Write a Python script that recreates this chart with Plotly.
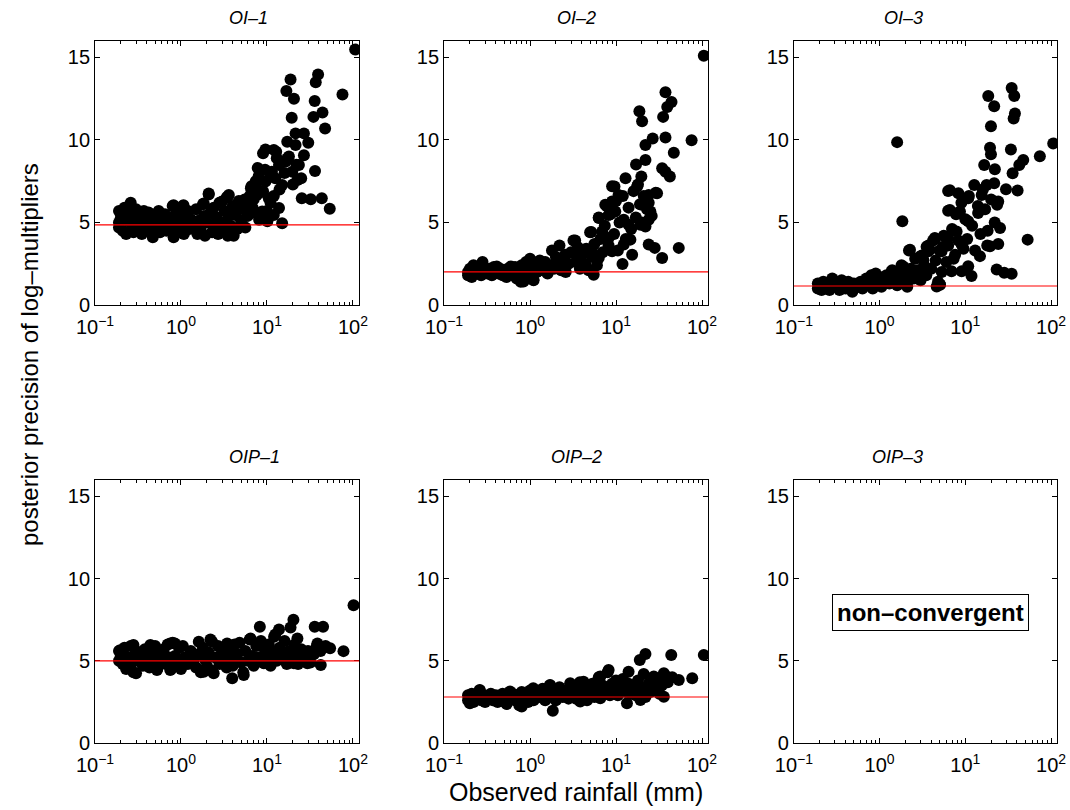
import math
import plotly.graph_objects as go

# ---------------- data ----------------
panel_titles = ["OI–1", "OI–2", "OI–3", "OIP–1", "OIP–2", "OIP–3"]
ref_levels = [4.85, 2.0, 1.15, 5.0, 2.8]
x_tick_vals = [0.1, 1, 10, 100]
x_tick_text = ["10<sup>−1</sup>", "10<sup>0</sup>", "10<sup>1</sup>", "10<sup>2</sup>"]
y_tick_vals = [0, 5, 10, 15]
x_minor_vals = [0.2, 0.3, 0.4, 0.5, 0.6, 0.7, 0.8, 0.9, 2, 3, 4, 5, 6, 7, 8, 9,
                20, 30, 40, 50, 60, 70, 80, 90]

# OI-1
oi1_x = [0.19, 0.19, 0.19, 0.2, 0.21, 0.22, 0.23, 0.24, 0.25, 0.26, 0.27, 0.28, 0.29, 0.3, 0.31,
         0.32, 0.34, 0.35, 0.37, 0.38, 0.4, 0.42, 0.43, 0.45, 0.47, 0.5, 0.52, 0.55, 0.57, 0.6,
         0.62, 0.65, 0.68, 0.7, 0.73, 0.77, 0.8, 0.82, 0.85, 0.88, 0.9, 0.95, 1.0, 1.05, 1.08,
         1.1, 1.2, 1.25, 1.3, 1.4, 1.5, 1.55, 1.6, 1.7, 1.8, 1.85, 1.9, 2.0, 2.1, 2.2,
         2.3, 2.4, 2.5, 2.6, 2.7, 2.8, 3.0, 3.1, 3.2, 3.4, 3.5, 3.6, 3.8, 4.0, 4.1,
         4.3, 4.5, 4.7, 5.0, 5.3, 5.6, 5.9, 6.0, 6.3, 6.6, 7.0, 7.4, 7.8, 8.2, 8.5,
         9.0, 9.5, 10, 11, 12, 13, 14, 16, 18, 20, 22,
         106, 18.8, 39.3, 36.9, 16.8, 20.6, 75.5, 35.9, 19.4, 34.7, 44.2, 47.4, 21.5, 26.9, 30.2,
         9.6, 12.8, 36.2, 25.4, 32.3, 43.4, 53.7, 15.0, 21.5, 26.9, 23.5, 22.6, 17.2, 13.8, 11.4,
         9.6, 7.4, 6.5, 7.6, 10.5, 13.8, 12.0, 8.8, 8.1, 10.1, 3.6, 3.0, 5.1, 4.3, 6.2,
         3.3, 4.7, 17.2, 19.7, 25.0, 12.5, 15.0, 16.5, 3.44, 4.1, 5.9, 2.1, 1.84, 0.82, 1.07,
         7.0, 8.0, 9.0, 11.0, 12.0, 6.8, 5.5]
oi1_y = [5.7, 5.0, 4.7, 5.3, 4.5, 5.9, 4.3, 5.1, 5.6, 6.2, 4.8, 4.4, 5.3, 5.8, 4.6,
         5.0, 5.5, 4.3, 5.7, 4.9, 5.2, 5.6, 4.5, 5.0, 4.1, 5.4, 4.7, 5.7, 4.4, 5.1,
         4.9, 5.5, 4.5, 5.2, 4.8, 5.3, 6.0, 4.1, 4.7, 5.6, 5.0, 4.4, 5.4, 6.0, 4.3,
         4.9, 5.7, 4.6, 5.2, 4.8, 5.8, 4.3, 5.1, 4.5, 6.1, 5.4, 4.2, 5.0, 6.7, 5.6,
         4.4, 5.9, 4.8, 5.3, 4.3, 6.2, 5.0, 4.5, 5.7, 6.5, 4.2, 5.4, 4.8, 6.0, 4.2,
         5.5, 4.6, 6.3, 5.1, 5.8, 4.7, 6.0, 5.4, 6.6, 7.2, 5.6, 7.5, 8.3, 6.8, 5.3,
         9.2, 8.2, 5.7, 6.2, 9.4, 8.9, 7.0, 8.0, 9.0, 7.3, 8.5,
         15.48, 13.67, 13.97, 13.5, 12.97, 12.5, 12.76, 12.36, 11.34, 11.4, 11.66, 10.69, 10.4, 10.4, 9.83,
         9.43, 9.29, 8.12, 6.47, 6.41, 6.47, 5.83, 4.96, 9.69, 9.08, 8.48, 7.58, 8.88, 8.48, 8.08,
         7.48, 7.27, 7.07, 6.67, 6.47, 5.87, 5.46, 5.67, 5.16, 5.07, 6.67, 6.27, 6.07, 5.46, 5.67,
         4.9, 4.7, 9.89, 8.08, 7.68, 7.68, 7.27, 8.69, 6.55, 5.95, 5.95, 6.75, 6.15, 6.05, 6.05,
         6.4, 7.8, 6.9, 7.9, 6.6, 5.9, 6.4]

# OI-2
oi2_x = [0.19, 0.19, 0.2, 0.21, 0.22, 0.23, 0.25, 0.27, 0.28, 0.3, 0.32, 0.34, 0.36, 0.38, 0.4,
         0.43, 0.45, 0.48, 0.5, 0.53, 0.55, 0.6, 0.63, 0.67, 0.7, 0.75, 0.78, 0.8, 0.85, 0.9,
         0.95, 1.0, 1.05, 1.1, 1.15, 1.2, 1.3, 1.4, 1.5, 1.6, 1.7, 1.8, 1.9, 2.0, 2.1,
         2.2, 2.3, 2.5, 2.6, 2.8, 3.0, 3.2, 3.4, 3.6, 3.8, 4.0, 4.2, 4.5, 4.8, 5.0,
         5.3, 5.6, 6.0, 6.3, 6.6, 7.0, 7.4, 7.8, 8.2, 8.6, 9.0, 9.5, 10, 10.5, 11,
         12, 13, 14, 15, 16, 17, 18, 19, 20, 21, 23, 24, 26, 29,
         105, 37.6, 44.2, 39.4, 18.7, 20.1, 35.3, 26.7, 37.6, 75.7, 22.0, 47.0, 22.0, 17.1, 34.4,
         42.3, 37.6, 12.9, 19.7, 9.6, 17.6, 30.0, 24.0, 10.7, 9.0, 25.1, 20.1, 24.0, 19.2, 22.0,
         6.3, 8.2, 12.3, 14.7, 12.3, 15.4, 24.0, 28.2, 34.4, 53.7, 11.9, 5.15, 3.35, 8.2, 9.0,
         6.9, 9.8, 7.5, 14.0, 5.25, 6.3, 4.4, 3.7, 2.56, 0.84, 1.09, 0.41, 0.6, 1.2, 5.5]
oi2_y = [2.0, 1.8, 2.2, 1.7, 2.4, 1.9, 2.1, 1.8, 2.6, 2.0, 1.9, 2.2, 1.8, 2.3, 2.0,
         1.9, 2.2, 1.8, 2.1, 1.7, 2.2, 2.0, 1.8, 2.3, 1.6, 2.1, 1.4, 2.4, 1.9, 2.6,
         1.7, 2.8, 2.2, 1.5, 2.5, 2.0, 2.7, 2.1, 2.6, 1.9, 2.4, 3.3, 2.2, 2.9, 2.4,
         3.6, 2.1, 2.8, 2.0, 2.5, 3.2, 3.9, 2.6, 3.5, 2.2, 3.0, 2.5, 3.4, 2.1, 4.4,
         2.9, 3.7, 2.4, 5.3, 4.0, 3.2, 4.8, 6.0, 3.6, 5.5, 7.2, 4.3, 6.3, 3.3, 5.0,
         6.6, 4.0, 5.9, 4.6, 6.9, 5.3, 7.3, 6.1, 5.0, 6.6, 5.8, 6.2, 5.4, 6.8,
         15.11, 12.9, 12.3, 12.0, 11.74, 11.13, 11.4, 10.09, 10.15, 9.99, 9.69, 9.23, 8.78, 8.52, 8.28,
         7.78, 8.08, 7.68, 7.78, 7.18, 7.18, 6.77, 6.67, 6.67, 6.27, 5.67, 6.07, 5.16, 4.86, 4.76,
         5.27, 5.46, 5.16, 3.96, 3.66, 3.05, 3.66, 3.46, 2.85, 3.46, 2.49, 4.42, 3.9, 4.06, 3.26,
         4.46, 5.67, 6.07, 4.86, 3.26, 2.85, 2.45, 2.85, 3.05, 1.42, 1.53, 2.33, 2.33, 2.53, 1.83]

# OI-3
oi3_x = [0.19, 0.19, 0.2, 0.21, 0.22, 0.23, 0.25, 0.26, 0.28, 0.3, 0.32, 0.34, 0.36, 0.38, 0.4,
         0.43, 0.45, 0.48, 0.5, 0.55, 0.6, 0.63, 0.67, 0.7, 0.75, 0.8, 0.83, 0.88, 0.9, 0.95,
         1.0, 1.05, 1.1, 1.2, 1.3, 1.4, 1.5, 1.6, 1.7, 1.8, 1.9, 2.0, 2.1, 2.2, 2.3,
         2.5, 2.6, 2.8, 3.0, 3.1, 3.3, 3.5, 3.7, 4.0, 4.2, 4.5, 4.8, 5.0, 5.3, 5.6,
         6.0, 6.3, 7.0, 7.3, 7.8, 8.3, 9.0, 9.5, 10, 10.5, 11, 12, 13, 14, 15,
         16, 17, 18, 20, 22,
         34.7, 37.2, 18.5, 21.7, 37.9, 36.6, 19.9, 106, 19.4, 19.9, 34.0, 74.0, 47.4, 42.6, 16.6,
         22.1, 35.6, 12.7, 17.7, 21.7, 29.8, 40.7, 6.3, 8.3, 10.8, 15.5, 24.2, 23.5, 6.3, 8.65,
         14.1, 10.8, 18.2, 25.4, 24.2, 19.4, 53.3, 14.8, 10.8, 11.8, 23.2, 28.4, 34.7, 7.9, 4.4,
         6.3, 9.06, 5.06, 7.6, 5.28, 3.7, 6.9, 9.06, 1.6, 1.84, 2.26, 4.42, 1.88, 1.38, 0.88,
         3.53, 2.95, 5.06, 2.07, 6.6, 6.6, 4.63, 3.24, 3.83, 5.5]
oi3_y = [1.3, 1.0, 1.2, 0.9, 1.4, 1.1, 1.3, 0.9, 1.6, 1.1, 1.4, 0.9, 1.5, 1.2, 1.0,
         1.4, 1.2, 0.8, 1.3, 1.1, 1.4, 1.0, 1.3, 1.6, 1.2, 1.8, 1.0, 1.5, 1.9, 1.3,
         1.7, 1.1, 1.5, 1.8, 1.3, 2.1, 1.5, 1.2, 1.9, 2.4, 1.4, 1.8, 1.1, 3.3, 2.2,
         1.6, 2.8, 2.1, 1.5, 3.0, 2.4, 1.8, 3.6, 2.2, 3.9, 2.7, 1.4, 3.3, 2.0, 4.2,
         2.6, 3.6, 4.6, 2.8, 5.5, 3.9, 6.2, 3.4, 5.2, 4.0, 6.6, 4.8, 3.3, 6.0, 4.3,
         7.0, 5.8, 3.6, 6.4, 5.0,
         13.15, 12.67, 12.67, 12.04, 11.6, 11.3, 10.83, 9.79, 9.53, 9.13, 9.43, 9.02, 8.78, 8.48, 8.48,
         8.22, 7.98, 7.27, 7.27, 7.37, 7.01, 6.94, 6.91, 6.77, 6.47, 6.67, 6.27, 6.07, 5.71, 5.67,
         5.57, 5.07, 4.5, 4.66, 3.7, 3.56, 3.96, 2.96, 2.35, 1.75, 2.15, 1.95, 1.89, 4.46, 4.06,
         4.06, 3.66, 1.24, 3.05, 3.26, 3.26, 2.05, 2.05, 9.87, 5.08, 3.34, 3.98, 2.33, 2.03, 1.83,
         3.53, 2.93, 1.22, 1.22, 6.95, 5.75, 1.12, 2.73, 3.34, 3.53]

# OIP-1
oip1_x = [0.19, 0.19, 0.2, 0.21, 0.22, 0.23, 0.25, 0.26, 0.27, 0.28, 0.3, 0.32, 0.34, 0.36, 0.38,
          0.4, 0.43, 0.45, 0.48, 0.5, 0.53, 0.56, 0.6, 0.63, 0.67, 0.7, 0.73, 0.77, 0.8, 0.85,
          0.9, 0.95, 1.0, 1.05, 1.1, 1.2, 1.3, 1.4, 1.5, 1.6, 1.7, 1.8, 1.9, 2.0, 2.1,
          2.2, 2.3, 2.5, 2.7, 2.8, 3.0, 3.2, 3.4, 3.6, 3.8, 4.0, 4.2, 4.5, 4.8, 5.0,
          5.3, 5.6, 6.0, 6.3, 6.7, 7.0, 7.5, 8.0, 8.5, 9.0, 9.5, 10, 10.5, 11, 12,
          12.5, 13, 14, 15, 16, 17, 18, 19, 21, 22, 23, 25, 27, 30, 32,
          35, 38, 42, 48,
          101.6, 8.26, 20.3, 18.8, 13.8, 35.9, 44.9, 77.6, 54.2, 42.2, 3.94, 2.3, 1.61, 5.37, 0.3,
          0.196, 0.196, 0.525, 0.75, 1.84, 2.4, 9.2, 20.6, 29.5, 6.44, 12.1, 22.6, 38.6, 0.75, 0.85,
          0.44, 0.28, 3.44]
oip1_y = [5.6, 5.0, 5.3, 4.8, 5.8, 4.5, 5.2, 5.9, 4.9, 4.3, 5.6, 5.0, 5.4, 4.7, 5.7,
          5.1, 4.6, 5.5, 5.0, 5.9, 4.5, 5.3, 5.0, 5.7, 4.8, 6.0, 5.2, 4.5, 6.1, 5.3,
          4.9, 5.8, 4.5, 5.9, 5.2, 4.8, 5.6, 5.0, 4.6, 5.4, 4.3, 5.8, 5.1, 4.7, 5.5,
          6.3, 4.4, 5.2, 5.9, 4.8, 5.6, 5.0, 4.6, 5.7, 5.2, 4.7, 6.0, 5.4, 6.1, 4.9,
          4.3, 5.6, 5.0, 6.3, 5.3, 4.7, 5.9, 5.2, 6.2, 4.9, 5.6, 5.1, 6.0, 4.7, 5.5,
          6.6, 5.0, 5.8, 5.3, 6.2, 4.8, 5.6, 5.1, 6.0, 5.4, 4.8, 5.7, 5.2, 5.6, 4.9,
          5.4, 5.9, 5.6, 5.9,
          8.38, 7.07, 7.5, 7.03, 6.91, 7.07, 7.07, 5.59, 5.76, 4.75, 3.94, 6.16, 6.16, 4.14, 4.24,
          5.65, 5.0, 4.44, 4.44, 4.34, 4.24, 4.85, 4.85, 4.85, 6.36, 6.46, 6.36, 6.06, 6.06, 6.06,
          5.96, 5.96, 6.06]

# OIP-2
oip2_x = [0.19, 0.19, 0.2, 0.21, 0.22, 0.24, 0.26, 0.27, 0.29, 0.3, 0.32, 0.35, 0.37, 0.4, 0.42,
          0.45, 0.48, 0.5, 0.53, 0.56, 0.6, 0.63, 0.67, 0.7, 0.75, 0.8, 0.85, 0.9, 0.95, 1.0,
          1.05, 1.1, 1.2, 1.3, 1.4, 1.5, 1.6, 1.7, 1.8, 1.9, 2.0, 2.1, 2.2, 2.4, 2.6,
          2.8, 3.0, 3.2, 3.4, 3.6, 3.8, 4.0, 4.3, 4.6, 5.0, 5.3, 5.6, 6.0, 6.3, 6.7,
          7.0, 7.5, 8.0, 8.5, 9.0, 9.5, 10, 10.5, 11, 12, 13, 14, 15, 16, 17,
          18, 20, 21, 22, 24, 25, 27, 30, 32, 34, 37, 40, 45,
          105, 43.9, 22.0, 18.9, 77.0, 53.7, 8.2, 14.0, 1.84, 13.4, 27.5, 36.0, 6.56, 4.19, 2.93,
          1.71, 1.09, 0.585, 0.26, 0.2, 0.2, 19.2, 36.0, 0.535, 0.8, 3.83, 6.56]
oip2_y = [2.9, 2.6, 2.7, 3.0, 2.5, 2.8, 3.2, 2.6, 2.9, 2.5, 2.8, 3.0, 2.6, 2.9, 2.5,
          2.8, 3.0, 2.6, 2.4, 2.9, 2.7, 3.0, 2.6, 2.9, 2.3, 3.1, 2.7, 3.0, 2.5, 3.2,
          2.8, 2.6, 3.1, 2.8, 3.3, 2.6, 3.0, 3.5, 2.8, 3.2, 2.6, 3.0, 3.4, 2.8, 3.2,
          2.7, 3.5, 3.0, 2.7, 3.3, 3.7, 2.9, 3.4, 2.6, 3.1, 3.6, 2.8, 3.3, 4.0, 2.9,
          3.5, 3.1, 4.3, 2.9, 3.6, 3.2, 3.8, 2.9, 3.4, 3.9, 3.1, 3.6, 3.0, 3.5, 2.9,
          3.8, 3.3, 4.2, 2.8, 3.6, 3.1, 3.4, 3.9, 3.0, 3.5, 4.1, 3.7, 4.0,
          5.35, 5.35, 5.41, 5.05, 3.94, 3.84, 4.44, 4.34, 1.96, 2.42, 4.04, 4.24, 4.04, 3.73, 3.64,
          3.53, 3.33, 3.13, 3.23, 2.82, 2.42, 2.62, 2.82, 2.38, 2.22, 2.52, 2.73]

series_x = [oi1_x, oi2_x, oi3_x, oip1_x, oip2_x, None]
series_y = [oi1_y, oi2_y, oi3_y, oip1_y, oip2_y, None]
note_text = "non–convergent"
note_pos = (3.96, 7.96)

# ---------------- figure ----------------
FONT = "Liberation Sans, Arial, Helvetica, sans-serif"
x_domains = [[0.0888, 0.3355], [0.415, 0.6617], [0.742, 0.9879]]
y_domains = [[0.6235, 0.9494], [0.0827, 0.4074]]

fig = go.Figure()
layout = dict(width=1070, height=810, margin=dict(l=0, r=0, t=0, b=0, autoexpand=False),
              template="none",
              paper_bgcolor="white", plot_bgcolor="white", showlegend=False,
              font=dict(family=FONT, color="black"))
annotations = []
shapes = []

for i in range(6):
    r, c = divmod(i, 3)
    n = i + 1
    xa = "xaxis" if n == 1 else f"xaxis{n}"
    ya = "yaxis" if n == 1 else f"yaxis{n}"
    xref = "x" if n == 1 else f"x{n}"
    yref = "y" if n == 1 else f"y{n}"
    layout[xa] = dict(domain=x_domains[c], anchor=yref, type="log", range=[-1, 2.07],
                      tickvals=x_tick_vals, ticktext=x_tick_text, ticks="inside", ticklen=5,
                      tickcolor="black", showline=True, linecolor="black", linewidth=1,
                      mirror="ticks", showgrid=False, zeroline=False, automargin=False,
                      ticklabelstandoff=4,
                      tickfont=dict(size=20, family=FONT, color="black"),
                      minor=dict(tickvals=x_minor_vals, ticks="inside", ticklen=3,
                                 tickcolor="black", showgrid=False))
    layout[ya] = dict(domain=y_domains[r], anchor=xref, range=[0, 16], tickvals=y_tick_vals,
                      ticks="inside", ticklen=5, tickcolor="black", showline=True,
                      linecolor="black", linewidth=1, mirror="ticks", showgrid=False,
                      zeroline=False, automargin=False,
                      tickfont=dict(size=20, family=FONT, color="black"))
    if series_x[i] is not None:
        fig.add_trace(go.Scatter(x=series_x[i], y=series_y[i], mode="markers",
                                 marker=dict(color="black", size=12, line=dict(width=0)),
                                 xaxis=xref, yaxis=yref, hoverinfo="x+y"))
        shapes.append(dict(type="line", xref=f"{xref} domain", yref=yref, x0=0, x1=1,
                           y0=ref_levels[i], y1=ref_levels[i], layer="above",
                           line=dict(color="#ff0000", width=1.2)))
    else:
        annotations.append(dict(x=math.log10(note_pos[0]), y=note_pos[1], xref=xref, yref=yref,
                                text=f"<b>{note_text}</b>", showarrow=False,
                                font=dict(size=24, family=FONT, color="black"),
                                bordercolor="black", borderwidth=1, borderpad=4,
                                bgcolor="white"))
    # panel title
    annotations.append(dict(x=sum(x_domains[c]) / 2, y=y_domains[r][1], xref="paper",
                            yref="paper", yshift=11, yanchor="bottom", showarrow=False,
                            text=f"<i>{panel_titles[i]}</i>",
                            font=dict(size=18, family=FONT, color="black")))

annotations.append(dict(x=sum(x_domains[1]) / 2, y=2 / 810, xref="paper", yref="paper",
                        yanchor="bottom", showarrow=False, text="Observed rainfall (mm)",
                        font=dict(size=25, family=FONT, color="black")))
annotations.append(dict(x=30 / 1070, y=1 - 355 / 810, xref="paper", yref="paper",
                        xanchor="center", yanchor="middle",
                        textangle=-90, showarrow=False,
                        text="posterior precision of log–multipliers",
                        font=dict(size=24, family=FONT, color="black")))

layout["annotations"] = annotations
layout["shapes"] = shapes
fig.update_layout(**layout)
fig.write_html("out.html", config={"displayModeBar": False},
               post_script="document.body.style.margin='0';document.body.style.overflow='hidden';")
